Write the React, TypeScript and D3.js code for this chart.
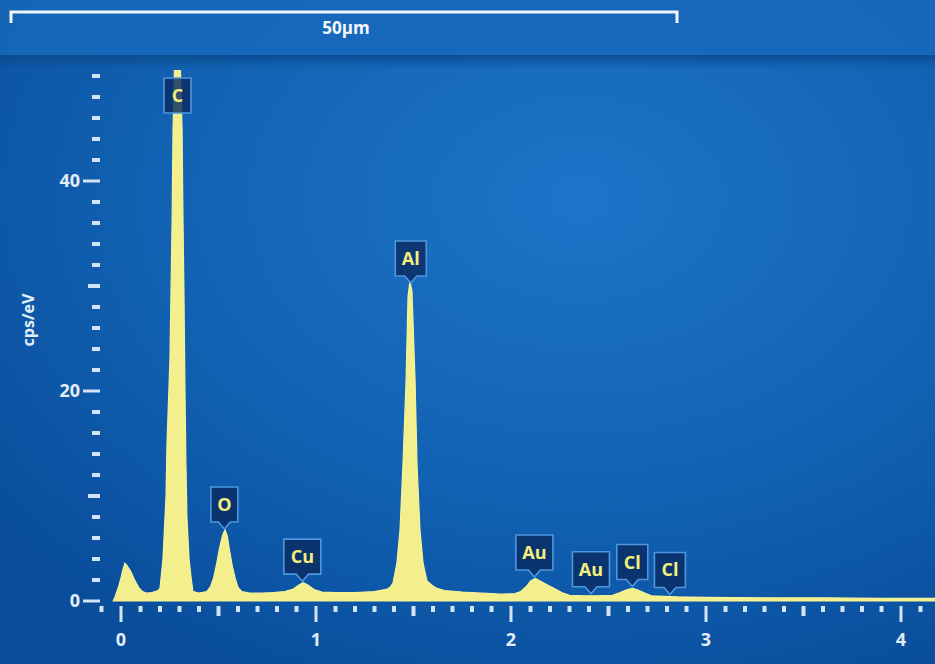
import React, { useEffect, useRef } from 'react'
import * as d3 from 'd3'

// spectrum (keV, cps/eV)
const ENERGY = [
  -0.04, -0.03, -0.01, 0.0, 0.01, 0.02, 0.03, 0.05, 0.07, 0.09, 0.11, 0.13, 0.16, 0.19,
  0.2, 0.215, 0.231, 0.236, 0.251, 0.256, 0.262, 0.267, 0.277, 0.29, 0.3, 0.313, 0.318, 0.323,
  0.328, 0.333, 0.338, 0.349, 0.359, 0.369, 0.4, 0.44, 0.46, 0.475, 0.49, 0.505, 0.52, 0.533,
  0.545, 0.555, 0.57, 0.585, 0.6, 0.62, 0.66, 0.72, 0.78, 0.84, 0.88, 0.91, 0.935, 0.96, 0.99,
  1.03, 1.1, 1.2, 1.3, 1.36, 1.38, 1.395, 1.415, 1.431, 1.446, 1.462, 1.472, 1.482, 1.492, 1.508,
  1.518, 1.533, 1.549, 1.569, 1.595, 1.62, 1.66, 1.75, 1.85, 1.95, 2.02, 2.05, 2.08, 2.1, 2.125,
  2.15, 2.18, 2.22, 2.26, 2.3, 2.38, 2.45, 2.52, 2.56, 2.6, 2.625, 2.65, 2.68, 2.72, 2.85, 3.0,
  3.3, 3.6, 3.9, 4.2,
]
const COUNTS = [
  0, 0.4, 1.5, 2.2, 3.0, 3.6, 3.4, 2.8, 2.0, 1.3, 0.9, 0.75, 0.8, 1.0,
  1.2, 3.9, 10, 15, 23, 29, 36, 45, 53, 56, 54, 45, 36, 29,
  20, 13, 8, 4, 2.3, 0.9, 0.75, 0.9, 1.4, 2.2, 3.5, 5.0, 6.2, 6.8,
  6.2, 5.0, 3.4, 2.2, 1.3, 0.9, 0.75, 0.75, 0.8, 0.9, 1.1, 1.5, 1.75, 1.5, 1.1,
  0.85, 0.8, 0.8, 0.9, 1.1, 1.3, 1.7, 3.6, 6.8, 13, 21, 29, 30.5, 29.5, 21,
  13, 6.8, 3.6, 1.9, 1.5, 1.2, 1.0, 0.85, 0.75, 0.65, 0.7, 0.9, 1.4, 1.9, 2.15,
  1.9, 1.6, 1.2, 0.8, 0.55, 0.5, 0.5, 0.55, 0.8, 1.1, 1.2, 1.05, 0.8, 0.5, 0.4, 0.35,
  0.3, 0.3, 0.25, 0.25,
]

const PEAK_NAMES = ['C', 'O', 'Cu', 'Al', 'Au', 'Au', 'Cl', 'Cl']
const PEAK_ENERGY = [0.29, 0.53, 0.93, 1.486, 2.12, 2.41, 2.622, 2.815]

const X_TICK_LABELS = [0, 1, 2, 3, 4]
const Y_TICK_LABELS = [0, 20, 40]

const W = 935
const H = 664

export default function App() {
  const ref = useRef<SVGSVGElement>(null)

  useEffect(() => {
    const svg = d3.select(ref.current)
    svg.selectAll('*').remove()

    const x = d3.scaleLinear().domain([0, 4]).range([121, 901])
    const y = d3.scaleLinear().domain([0, 50]).range([601, 76])
    const plotTop = 70

    const defs = svg.append('defs')
    const bg = defs.append('radialGradient').attr('id', 'bg')
      .attr('cx', '62%').attr('cy', '30%').attr('r', '80%')
    bg.append('stop').attr('offset', '0%').attr('stop-color', '#1d74c8')
    bg.append('stop').attr('offset', '55%').attr('stop-color', '#1262b3')
    bg.append('stop').attr('offset', '100%').attr('stop-color', '#094d9b')
    const band = defs.append('linearGradient').attr('id', 'band')
      .attr('x1', 0).attr('x2', 0).attr('y1', 0).attr('y2', 1)
    band.append('stop').attr('offset', '0%').attr('stop-color', '#0b4a8e').attr('stop-opacity', 0.9)
    band.append('stop').attr('offset', '100%').attr('stop-color', '#0b4a8e').attr('stop-opacity', 0)
    defs.append('clipPath').attr('id', 'plotclip')
      .append('rect').attr('x', 0).attr('y', plotTop).attr('width', W).attr('height', H - plotTop)

    svg.append('rect').attr('width', W).attr('height', H).attr('fill', 'url(#bg)')
    svg.append('rect').attr('width', W).attr('height', 56).attr('fill', '#1769bb').attr('opacity', 0.85)
    svg.append('rect').attr('y', 55).attr('width', W).attr('height', 14).attr('fill', 'url(#band)')

    // scale bar
    svg.append('path')
      .attr('d', 'M11,23 V12 H677 V23')
      .attr('fill', 'none').attr('stroke', '#f2f6fb').attr('stroke-width', 3)
    svg.append('text').attr('x', 346).attr('y', 34).attr('text-anchor', 'middle')
      .attr('fill', '#f4f7fb').attr('font-size', 17).attr('font-weight', 'bold')
      .attr('font-family', 'Open Sans, sans-serif').text('50µm')

    const tickColor = '#d3e4f6'

    // y ticks every 2 cps/eV
    const yt = svg.append('g')
    d3.range(0, 51, 2).forEach(v => {
      const len = v % 20 === 0 ? 17 : (v % 10 === 0 && v < 50 ? 12 : 8)
      yt.append('line').attr('x1', 100 - len).attr('x2', 100)
        .attr('y1', y(v)).attr('y2', y(v))
        .attr('stroke', tickColor).attr('stroke-width', v % 20 === 0 ? 3 : 4)
    })
    Y_TICK_LABELS.forEach(v => {
      yt.append('text').attr('x', 80).attr('y', y(v)).attr('dy', '0.36em')
        .attr('text-anchor', 'end').attr('fill', '#e3edf8').attr('font-size', 18)
        .attr('font-weight', 'bold').attr('font-family', 'Open Sans, sans-serif').text(v)
    })
    svg.append('text').attr('transform', 'translate(34,320) rotate(-90)')
      .attr('text-anchor', 'middle').attr('fill', '#e3edf8').attr('font-size', 16)
      .attr('font-weight', 'bold').attr('font-family', 'Open Sans, sans-serif').text('cps/eV')

    // x ticks every 0.1 keV
    const xt = svg.append('g')
    d3.range(-1, 42).forEach(i => {
      const len = i % 10 === 0 ? 16 : (i % 5 === 0 ? 10 : 6)
      xt.append('line').attr('x1', x(i / 10)).attr('x2', x(i / 10))
        .attr('y1', 606).attr('y2', 606 + len)
        .attr('stroke', tickColor).attr('stroke-width', i % 10 === 0 ? 3 : 4)
    })
    X_TICK_LABELS.forEach(v => {
      xt.append('text').attr('x', x(v)).attr('y', 640).attr('dy', '0.36em')
        .attr('text-anchor', 'middle').attr('fill', '#e3edf8').attr('font-size', 18)
        .attr('font-weight', 'bold').attr('font-family', 'Open Sans, sans-serif').text(v)
    })

    // spectrum
    const data = ENERGY.map((e, i) => ({ e, c: COUNTS[i] }))
    const area = d3.area<{ e: number; c: number }>()
      .x(d => x(d.e)).y0(y(0)).y1(d => y(d.c))
    svg.append('path').datum(data).attr('clip-path', 'url(#plotclip)')
      .attr('d', area).attr('fill', '#f3ef8c')
      .attr('stroke', '#f7f39a').attr('stroke-width', 1.2)

    // peak labels
    const valueAt = (e: number) => {
      const i = d3.bisector((d: { e: number }) => d.e).left(data, e)
      const a = data[Math.max(0, i - 1)], b = data[Math.min(data.length - 1, i)]
      const t = b.e === a.e ? 0 : (e - a.e) / (b.e - a.e)
      return a.c + (b.c - a.c) * t
    }
    const lg = svg.append('g')
    PEAK_NAMES.forEach((name, i) => {
      const cx = x(PEAK_ENERGY[i])
      const bw = name.length === 1 ? 27 : (name === 'Cl' || name === 'Al' ? 31 : 37)
      const bh = 35
      const tip = Math.max(y(valueAt(PEAK_ENERGY[i])) - 2, plotTop + 8 + bh + 7)
      const boxBottom = tip - 7
      const top = boxBottom - bh
      const x0 = cx - bw / 2, x1 = cx + bw / 2
      const clamped = name === 'C'
      const d = clamped
        ? `M${x0},${top}H${x1}V${boxBottom}H${x0}Z`
        : `M${x0},${top}H${x1}V${boxBottom}H${cx + 6}L${cx},${tip}L${cx - 6},${boxBottom}H${x0}Z`
      lg.append('path').attr('d', d).attr('fill', '#0a2c62').attr('fill-opacity', 0.82)
        .attr('stroke', '#4f97de').attr('stroke-width', 1.6).attr('stroke-linejoin', 'round')
      lg.append('text').attr('x', cx).attr('y', top + bh / 2).attr('dy', '0.36em')
        .attr('text-anchor', 'middle').attr('fill', '#f4ef7c').attr('font-size', 18)
        .attr('font-weight', 'bold').attr('font-family', 'Open Sans, sans-serif').text(name)
    })
  }, [])

  return (
    <svg ref={ref} width={W} height={H}
      style={{ position: 'absolute', left: 0, top: 0, display: 'block' }} />
  )
}
